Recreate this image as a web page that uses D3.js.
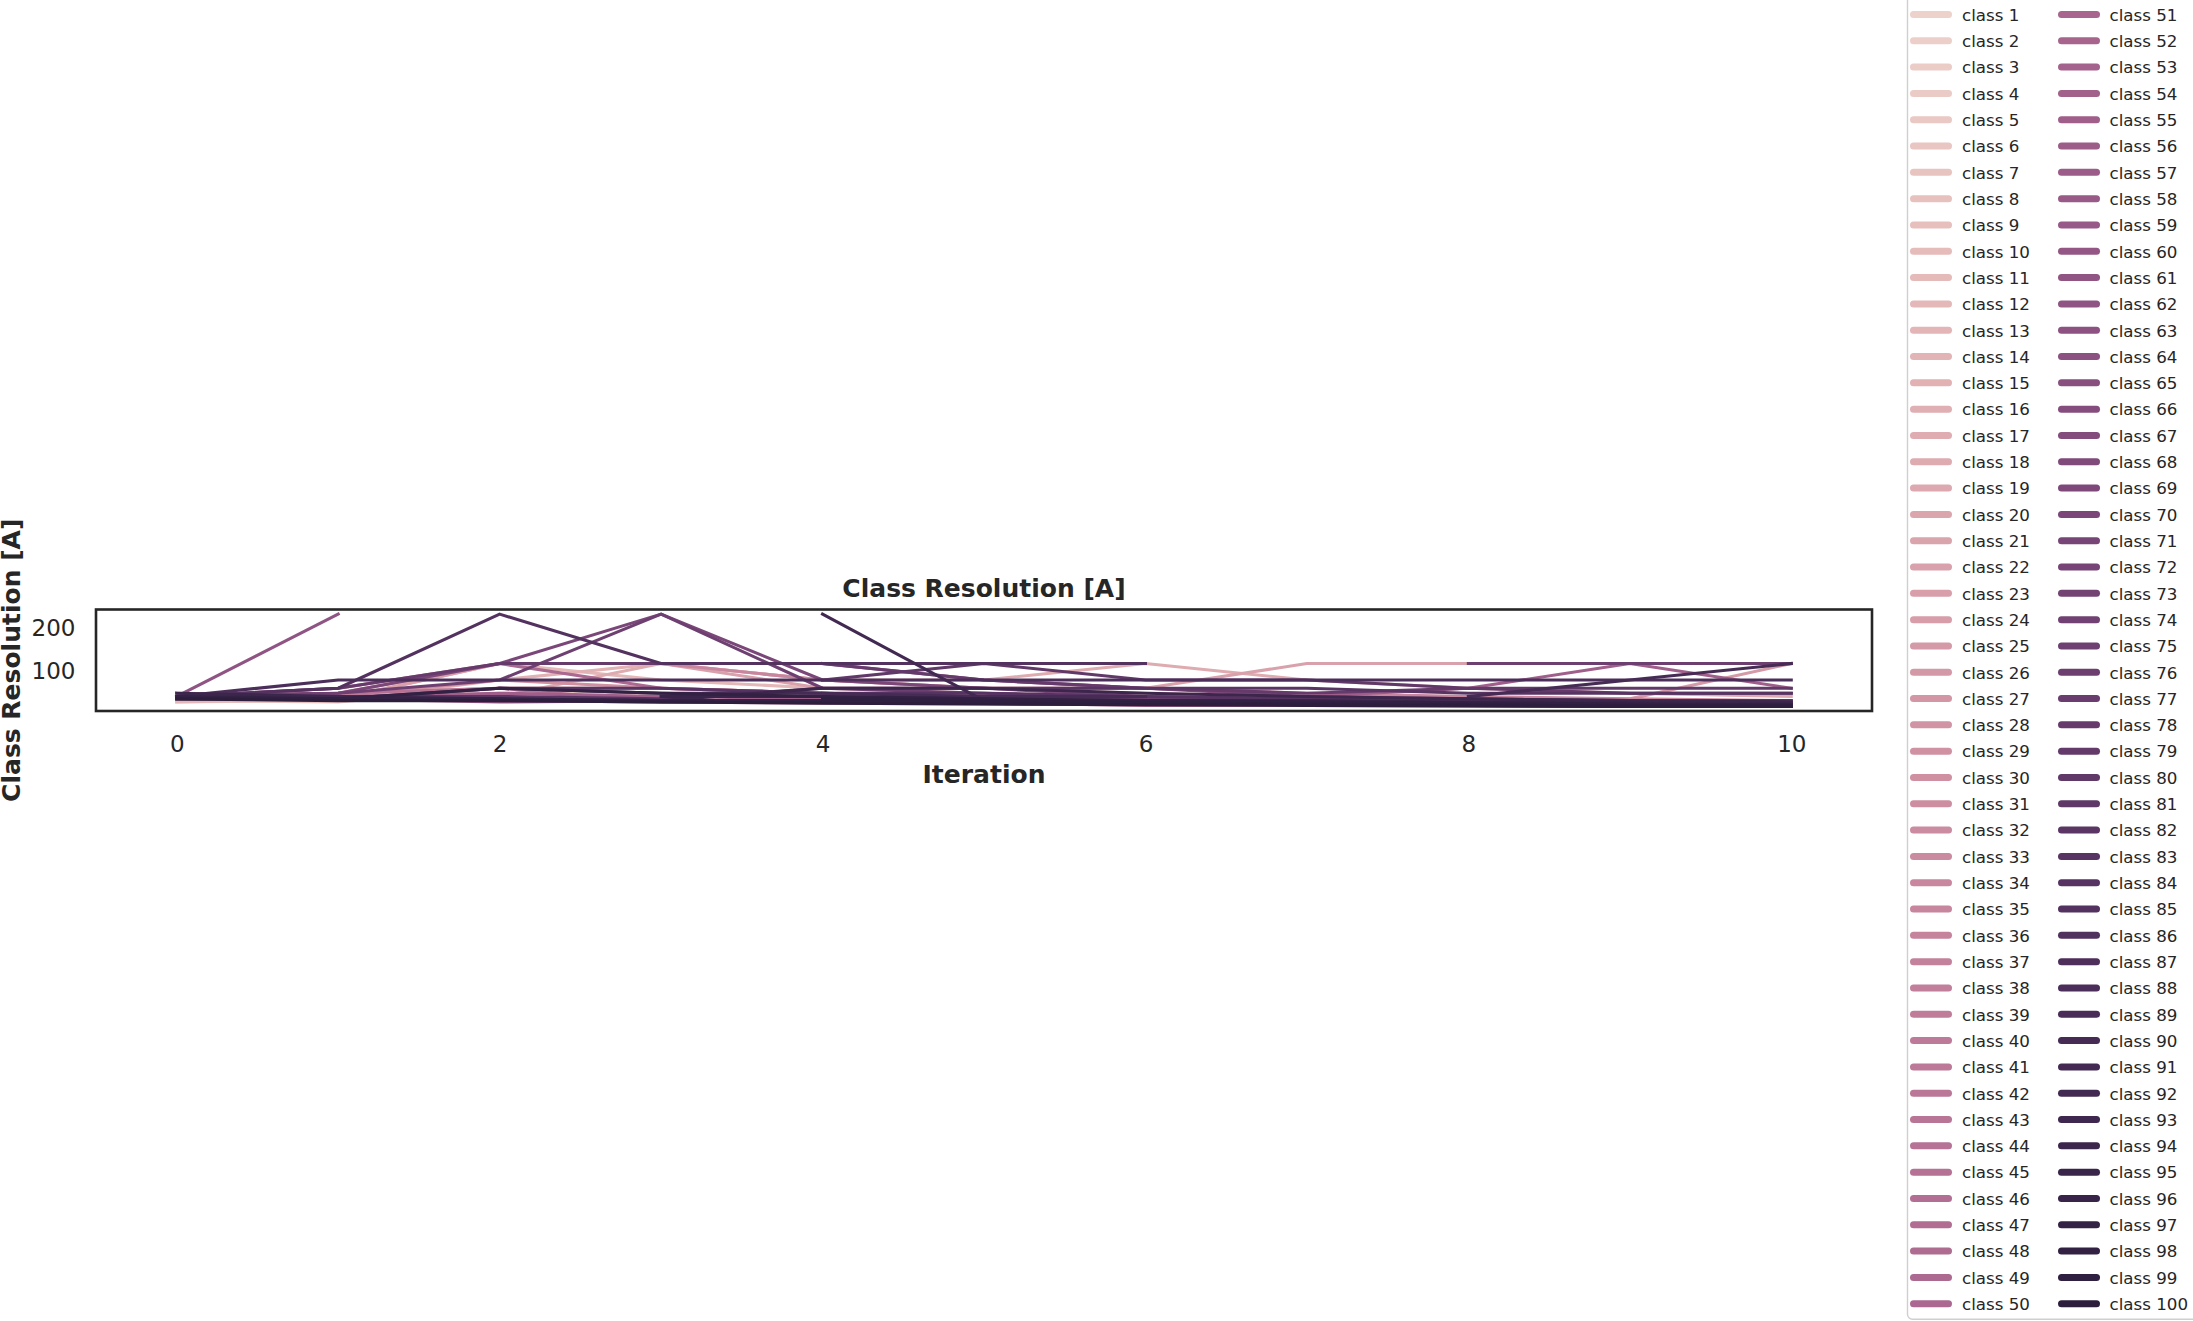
<!DOCTYPE html>
<html><head><meta charset="utf-8">
<script src="https://cdn.jsdelivr.net/npm/d3@7"></script>
<style>body{margin:0;background:#fff} svg{display:block}</style>
</head><body>
<svg id="chart" width="2193" height="1321"></svg>
<script>
// ---------------- data ----------------
const iterations = [0, 1, 2, 3, 4, 5, 6, 7, 8, 9, 10];
const xTickValues = [0, 2, 4, 6, 8, 10];
const yTickValues = [100, 200];
const classNumbers = d3.range(1, 101);           // legend entries: class 1 .. class 100
const classLabels = classNumbers.map(c => "class " + c);

// classes with a visible trajectory (others are empty)
const lineClasses = [3, 8, 12, 15, 18, 22, 25, 30, 35, 40, 45, 50, 52, 55, 58, 62, 65, 68, 70, 75,
                     76, 78, 80, 83, 84, 85, 88, 90, 92, 94, 95, 97, 98, 99, 100];
// resolution [A] per iteration 0..10 (null = no value)
const lineValues = [
  [26, 29.3, 46.8, 46.8, 39, null, null, null, null, null, null],
  [29.3, 26, 58.5, 58.5, null, null, null, null, null, null, null],
  [26, 33.4, 117, 78, 58.5, 46.8, 39, 33.4, 29.3, 26, 26],
  [33.4, 29.3, 78, 117, 78, 58.5, 46.8, 39, 33.4, 29.3, 29.3],
  [null, null, 39, 117, 78, 78, 117, 78, 58.5, 46.8, 39],
  [39, 33.4, 117, 117, 58.5, 58.5, 58.5, 117, 117, null, null],
  [39, 46.8, 58.5, 58.5, 46.8, 39, 33.4, 29.3, 26, 33.4, 117],
  [33.4, 39, 78, 58.5, 46.8, 33.4, 26, 23.4, 29.3, 26, 23.4],
  [39, 46.8, 117, 117, 78, 58.5, 58.5, 46.8, 39, 33.4, 29.3],
  [39, 39, 29.3, 26, 23.4, 21.3, 19.5, 19.5, 18, 16.7, 15.6],
  [39, 46.8, 58.5, 26, 26, 26, 23.4, 23.4, 21.3, 19.5, 18],
  [39, 58.5, 117, 58.5, 46.8, 33.4, 29.3, 26, 23.4, 21.3, 19.5],
  [46.8, 39, 33.4, 29.3, 29.3, 23.4, 18, 18, 16.7, 15.6, 15.6],
  [39, 39, 46.8, 39, 33.4, 29.3, 26, 39, 58.5, 117, 58.5],
  [39, 33.4, 26, 29.3, 26, 26, 23.4, 21.3, 18, 16.7, 16.7],
  [39, 234, null, null, null, null, null, null, null, null, null],
  [null, null, null, null, 46.8, 39, 29.3, 26, 21.3, 19.5, 18],
  [null, null, null, null, 117, 78, 58.5, 39, 33.4, 29.3, 26],
  [39, 46.8, 117, 234, 78, 58.5, 39, 33.4, 29.3, 26, 23.4],
  [39, 46.8, 78, 234, 58.5, 46.8, 33.4, 29.3, 26, 23.4, 21.3],
  [39, 33.4, 29.3, 26, 26, 23.4, 21.3, null, 117, 117, 117],
  [39, 58.5, 117, 117, 117, 78, 58.5, 46.8, 58.5, 46.8, 46.8],
  [null, null, null, null, 78, 117, 78, 78, 58.5, 58.5, 58.5],
  [39, 39, 39, 33.4, 58.5, 58.5, 58.5, 58.5, 46.8, 46.8, 46.8],
  [null, null, 58.5, 58.5, 46.8, 46.8, 39, 33.4, 33.4, 29.3, 29.3],
  [39, 58.5, 234, 117, 117, 117, 117, null, null, null, null],
  [39, 78, 78, 78, 78, 78, 78, 78, 78, 78, 78],
  [39, 33.4, 58.5, 46.8, 46.8, 39, 39, null, 39, 78, 117],
  [null, null, null, null, 234, 29.3, 26, 23.4, 21.3, 19.5, 18],
  [46.8, 39, 33.4, 29.3, 58.5, 58.5, 46.8, 39, 33.4, 29.3, 26],
  [null, null, null, 39, 39, 33.4, 29.3, 29.3, 26, 23.4, 21.3],
  [39, 33.4, 33.4, 29.3, 29.3, 26, 26, 23.4, 21.3, 18, 16.7],
  [33.4, 33.4, 58.5, 46.8, 39, 33.4, 29.3, 26, 23.4, 21.3, 19.5],
  [null, null, null, null, 33.4, 29.3, 23.4, 21.3, 19.5, 15.6, 15.6],
  [33.4, 29.3, 29.3, 26, 23.4, 21.3, 19.5, 18, 16.7, 15.6, 15.6]
];

// ---------------- colour map (seaborn default cubehelix, light -> dark) ----------------
function cubehelixColor(t) {
  const N = 256;
  const idx = Math.max(0, Math.min(N - 1, Math.floor(t * N)));
  const x = 0.85 + (0.15 - 0.85) * idx / (N - 1);
  const a = 0.8 * x * (1 - x) / 2;
  const phi = 2 * Math.PI * (0 / 3 + 0.4 * x);
  const c = Math.cos(phi), s = Math.sin(phi);
  const cl = v => Math.max(0, Math.min(1, v)) * 255;
  return d3.rgb(cl(x + a * (-0.14861 * c + 1.78277 * s)),
                cl(x + a * (-0.29227 * c - 0.90649 * s)),
                cl(x + a * (1.97294 * c))).formatHex();
}
const hueNorm = d3.scaleLinear().domain(d3.extent(classNumbers)).range([0, 1]);
const colorOf = c => cubehelixColor(hueNorm(c));

// ---------------- layout ----------------
const svg = d3.select("#chart");
const FONT = "'DejaVu Sans', sans-serif";
const TXT = "#262626";
const plot = {left: 96, right: 1872, top: 609.5, bottom: 711};

const x = d3.scaleLinear()
  .domain([d3.min(iterations) - 0.05 * (d3.max(iterations) - d3.min(iterations)),
           d3.max(iterations) + 0.05 * (d3.max(iterations) - d3.min(iterations))])
  .range([plot.left, plot.right]);

const allVals = lineValues.flat().filter(v => v != null);
const vMin = d3.min(allVals), vMax = d3.max(allVals), vR = vMax - vMin;
const y = d3.scaleLinear()
  .domain([vMin - 0.05 * vR, vMax + 0.05 * vR])
  .range([plot.bottom, plot.top]);

// lines (drawn in hue order)
const line = d3.line()
  .defined(d => d.v != null)
  .x(d => x(d.i))
  .y(d => y(d.v));

const order = d3.range(lineClasses.length).sort((a, b) => lineClasses[a] - lineClasses[b]);
const gLines = svg.append("g");
order.forEach(k => {
  const pts = iterations.map((it, j) => ({i: it, v: lineValues[k][j]}));
  gLines.append("path")
    .attr("d", line(pts))
    .attr("fill", "none")
    .attr("stroke", colorOf(lineClasses[k]))
    .attr("stroke-width", 3.1)
    .attr("stroke-linecap", "square")
    .attr("stroke-linejoin", "round");
});

// frame
svg.append("rect")
  .attr("x", plot.left).attr("y", plot.top)
  .attr("width", plot.right - plot.left).attr("height", plot.bottom - plot.top)
  .attr("fill", "none").attr("stroke", TXT).attr("stroke-width", 2.6);

// x axis
const xAxis = d3.axisBottom(x).tickValues(xTickValues).tickSize(0).tickPadding(0).tickFormat(d3.format("d"));
const gx = svg.append("g").attr("transform", `translate(0,${plot.bottom})`).call(xAxis);
gx.select(".domain").remove();
gx.selectAll("text")
  .attr("y", 41).attr("dy", null)
  .attr("font-family", FONT).attr("font-size", 23).attr("fill", TXT);

// y axis
const yAxis = d3.axisLeft(y).tickValues(yTickValues).tickSize(0).tickPadding(0).tickFormat(d3.format("d"));
const gy = svg.append("g").attr("transform", `translate(${plot.left},0)`).call(yAxis);
gy.select(".domain").remove();
gy.selectAll("text")
  .attr("x", -20.5).attr("dy", null).attr("y", 7.5)
  .attr("text-anchor", "end")
  .attr("font-family", FONT).attr("font-size", 23).attr("fill", TXT);

// titles
svg.append("text")
  .attr("x", (plot.left + plot.right) / 2).attr("y", 597)
  .attr("text-anchor", "middle")
  .attr("font-family", FONT).attr("font-weight", "bold").attr("font-size", 25)
  .attr("fill", TXT).text("Class Resolution [A]");

svg.append("text")
  .attr("x", (plot.left + plot.right) / 2).attr("y", 783)
  .attr("text-anchor", "middle")
  .attr("font-family", FONT).attr("font-weight", "bold").attr("font-size", 25)
  .attr("fill", TXT).text("Iteration");

svg.append("text")
  .attr("transform", `translate(20,${(plot.top + plot.bottom) / 2}) rotate(-90)`)
  .attr("text-anchor", "middle")
  .attr("font-family", FONT).attr("font-weight", "bold").attr("font-size", 25)
  .attr("fill", TXT).text("Class Resolution [A]");

// ---------------- legend ----------------
const leg = {left: 1907.5, bottom: 1319.3, firstY: 14.5, rowH: 26.31, rows: 50,
             colX: [1913.5, 2061.5], handleLen: 35, textX: [1962, 2109.5]};
svg.append("rect")
  .attr("x", leg.left).attr("y", -40)
  .attr("width", 400).attr("height", leg.bottom + 40)
  .attr("rx", 5).attr("ry", 5)
  .attr("fill", "#ffffff").attr("fill-opacity", 0.8)
  .attr("stroke", "#cfcfcf").attr("stroke-width", 1.4);

const gLeg = svg.append("g");
classNumbers.forEach((c, i) => {
  const col = Math.floor(i / leg.rows), row = i % leg.rows;
  const cy = leg.firstY + row * leg.rowH;
  gLeg.append("line")
    .attr("x1", leg.colX[col]).attr("x2", leg.colX[col] + leg.handleLen)
    .attr("y1", cy).attr("y2", cy)
    .attr("stroke", colorOf(c)).attr("stroke-width", 7)
    .attr("stroke-linecap", "round");
  gLeg.append("text")
    .attr("x", leg.textX[col]).attr("y", cy + 6.3)
    .attr("font-family", FONT).attr("font-size", 16.7).attr("fill", TXT)
    .text(classLabels[i]);
});
</script>
</body></html>
